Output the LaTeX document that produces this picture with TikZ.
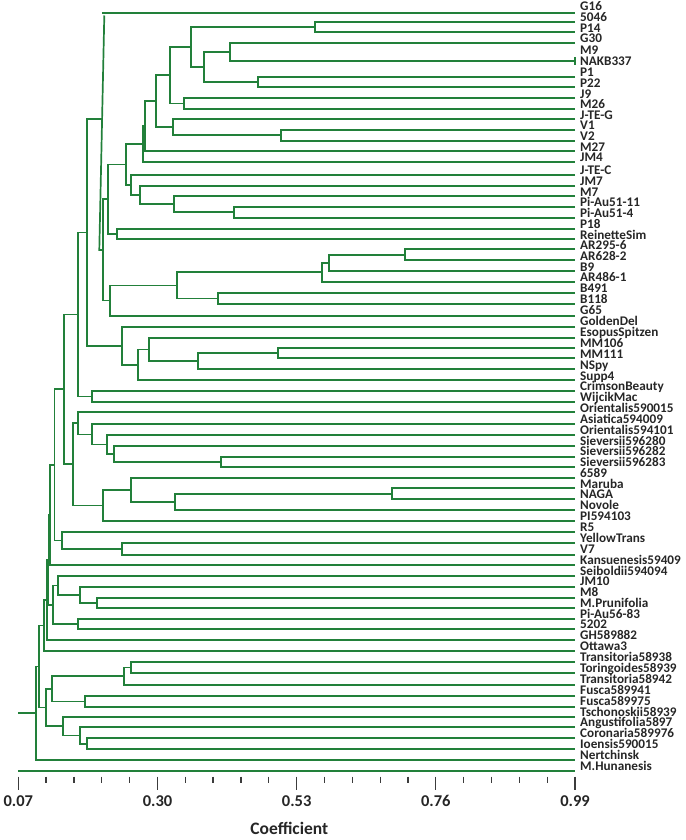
\documentclass[tikz,border=0pt]{standalone}
\usepackage{fontspec}
\setmainfont{Carlito}
\usetikzlibrary{calc}
\definecolor{tree}{RGB}{34,128,58}
\definecolor{txt}{RGB}{38,38,38}
\definecolor{tk}{RGB}{60,60,60}
\tikzset{
  br/.style={draw=tree, line width=1.7pt},
  lbl/.style={anchor=base west, inner sep=0pt, text=txt, font=\bfseries\fontsize{13.2}{14}\selectfont},
  axl/.style={anchor=base, inner sep=0pt, text=txt, font=\bfseries\fontsize{16.5}{18}\selectfont},
  tickline/.style={draw=tk, line width=1.3pt}
}
\newcommand\dn[4]{%
  \coordinate (tmpx) at (#2,0);
  \coordinate (tmpm) at ($(#3)!0.5!(#4)$);
  \coordinate (#1) at (tmpx |- tmpm);
  \draw[br] (#3) -| (#1) |- (#4);}
\begin{document}
\begin{tikzpicture}[x=1pt,y=-1pt]
\useasboundingbox (0,0) rectangle (685,840);
% leaves: line y / label baseline y / text
\foreach \ly/\by/\lab [count=\i from 0] in {
 13/10.5/G16, 21.7/21.7/5046, 32.3/32.3/P14, 42.7/42.7/G30, 55/55/M9, 66/66/NAKB337,
 76.7/76.7/P1, 87.3/87.3/P22, 98.3/98.3/J9, 109/109/M26, 119.3/119.3/J-TE-G, 130/130/V1,
 140.7/140.7/V2, 151/151/M27, 161.7/161.7/JM4, 175/174.5/J-TE-C, 186/185.5/JM7, 196.3/196.3/M7,
 206.7/206.7/Pi-Au51-11, 217.7/217.7/Pi-Au51-4, 229/228.5/P18, 239.3/239.3/ReinetteSim,
 249.3/249.3/AR295-6, 260/260/AR628-2, 271/271/B9, 281.7/281.7/AR486-1, 292.7/292.7/B491,
 304.3/303.5/B118, 315.7/314.5/G65, 326.7/325.5/GoldenDel, 337.7/336.5/EsopusSpitzen,
 348.3/347.5/MM106, 358.3/358.3/MM111, 369.3/369.3/NSpy, 380/380/Supp4, 391/390.5/CrimsonBeauty,
 401.7/401.5/WijcikMac, 411.7/412/Orientalis590015, 424.3/423/Asiatica594009,
 435/434/Orientalis594101, 446/445/Sieversii596280, 456.7/455.7/Sieversii596282,
 467.3/466.5/Sieversii596283, 477.7/477.3/6589, 488.3/488/Maruba, 499.3/498.7/NAGA,
 510/509.5/Novole, 521/520.3/PI594103, 531.7/531/R5, 543/542/YellowTrans, 555/553/V7,
 565/564/Kansuenesis59409, 576/575/Seiboldii594094, 586.7/585.7/JM10, 597.7/596.5/M8,
 608.3/607.3/M.Prunifolia, 619/618/Pi-Au56-83, 629.3/628.7/5202, 640/639.5/GH589882,
 651/650.3/Ottawa3, 661.7/661/Transitoria58938, 673/672.3/Toringoides58939,
 685/683/Transitoria58942, 695.7/694/Fusca589941, 707.3/705/Fusca589975,
 716.7/716/Tschonoskii58939, 727.3/726.7/Angustifolia5897, 738.3/737.5/Coronaria589976,
 749/748.3/Ioensis590015, 760/759/Nertchinsk, 771/770/M.Hunanesis}{
  \coordinate (L\i) at (575,\ly);
  \node[lbl] (T\i) at (580,\by) {\lab};
}
% merged M9 / NAKB337
\coordinate (Lm) at (575,61);
\coordinate (mt) at (575,57);
\coordinate (mb) at (575,65);
\draw[br] (mt) -- (mb);
% top cluster
\dn{a1}{315}{L1}{L2}
\dn{a2}{230}{L3}{Lm}
\dn{a3}{257.7}{L6}{L7}
\dn{a4}{204.3}{a2}{a3}
\dn{a5}{191}{a1}{a4}
\dn{a6}{184}{L8}{L9}
\dn{a7}{170}{a5}{a6}
\dn{a8}{281}{L11}{L12}
\dn{a9}{172.7}{L10}{a8}
\dn{a10}{156}{a7}{a9}
\dn{a11}{145}{a10}{L13}
\dn{a12}{143.3}{a11}{L14}
\dn{a13}{234.3}{L18}{L19}
\dn{a14}{174.3}{L17}{a13}
\dn{a15}{140}{L16}{a14}
\dn{a16}{131}{L15}{a15}
\dn{a17}{126}{a12}{a16}
\dn{a18}{116.7}{L20}{L21}
\dn{a19}{107.7}{a17}{a18}
\dn{b1}{405}{L22}{L23}
\dn{b2}{329.3}{b1}{L24}
\dn{b3}{321.7}{b2}{L25}
\dn{b4}{218.3}{L26}{L27}
\dn{b5}{176.7}{b3}{b4}
\dn{b6}{110}{b5}{L28}
\dn{C1}{103.3}{a19}{b6}
% G16 and its slanted link
\coordinate (gx) at (99.3,0);
\coordinate (gb) at (gx |- C1);
\coordinate (gt) at (104.3,15.5);
\coordinate (gs) at (102,13);
\coordinate (gj) at (102.1,119.3);
\draw[br] (C1) -- (gb) -- (gt);
\draw[br] (gs) -- (L0);
% GoldenDel group
\dn{c1}{278.3}{L31}{L32}
\dn{c2}{198.3}{c1}{L33}
\dn{c3}{149.3}{L30}{c2}
\dn{c4}{137.7}{c3}{L34}
\dn{c5}{121.7}{L29}{c4}
\dn{d1}{87.3}{gj}{c5}
\dn{d2}{92.3}{L35}{L36}
\dn{d3}{78.3}{d1}{d2}
% Orientalis / Sieversii group
\dn{e1}{220.7}{L41}{L42}
\dn{e2}{114.3}{L40}{e1}
\dn{e3}{107.3}{L39}{e2}
\dn{e4}{91.7}{L38}{e3}
\dn{e5}{77.7}{L37}{e4}
\dn{f1}{391.7}{L44}{L45}
\dn{f2}{175}{f1}{L46}
\dn{f3}{131}{L43}{f2}
\dn{f4}{103.3}{f3}{L47}
\dn{f5}{73.3}{e5}{f4}
\dn{g1}{64.3}{d3}{f5}
\dn{h1}{122.3}{L49}{L50}
\dn{h2}{62.3}{L48}{h1}
\dn{h3}{54.5}{g1}{h2}
\dn{h4}{50}{h3}{L51}
% JM / M8 group
\dn{i1}{96.7}{L54}{L55}
\dn{i2}{80}{L53}{i1}
\dn{i3}{57.7}{L52}{i2}
\dn{i4}{78.3}{L56}{L57}
\dn{i5}{53.3}{i3}{i4}
\dn{j1}{48.5}{h4}{i5}
\dn{j2}{47.3}{j1}{L58}
\dn{j3}{44}{j2}{L59}
% wild species
\dn{k1}{131}{L60}{L61}
\dn{k2}{124}{k1}{L62}
\dn{k3}{85}{L63}{L64}
\dn{k4}{51.7}{k2}{k3}
\dn{k5}{87.3}{L67}{L68}
\dn{k6}{80}{L66}{k5}
\dn{k7}{63.3}{L65}{k6}
\dn{k8}{45.7}{k4}{k7}
\dn{l1}{39.3}{j3}{k8}
\dn{root}{36}{l1}{L69}
\coordinate (rx) at (18.3,0);
\coordinate (rs) at (rx |- root);
\draw[br] (rs) -- (root);
\coordinate (mh) at (18.3,771);
\draw[br] (mh) -- (L70);
% axis ticks
\foreach \k in {0,...,20}{
  \pgfmathtruncatemacro\m{mod(\k,5)}
  \ifnum\m=0
    \draw[tickline] (18.3+27.835*\k,776.7) -- ++(0,13.3);
  \else
    \draw[tickline] (18.3+27.835*\k,776.7) -- ++(0,6.6);
  \fi
}
\node[axl] (x0) at (18.3,806.7) {0.07};
\node[axl] (x1) at (157.5,806.7) {0.30};
\node[axl] (x2) at (296.7,806.7) {0.53};
\node[axl] (x3) at (435.8,806.7) {0.76};
\node[axl] (x4) at (575,806.7) {0.99};
\node[anchor=base, inner sep=0pt, text=txt, font=\bfseries\fontsize{17.5}{19}\selectfont] (cf) at (289.3,834.3) {Coefficient};
\end{tikzpicture}
\end{document}
